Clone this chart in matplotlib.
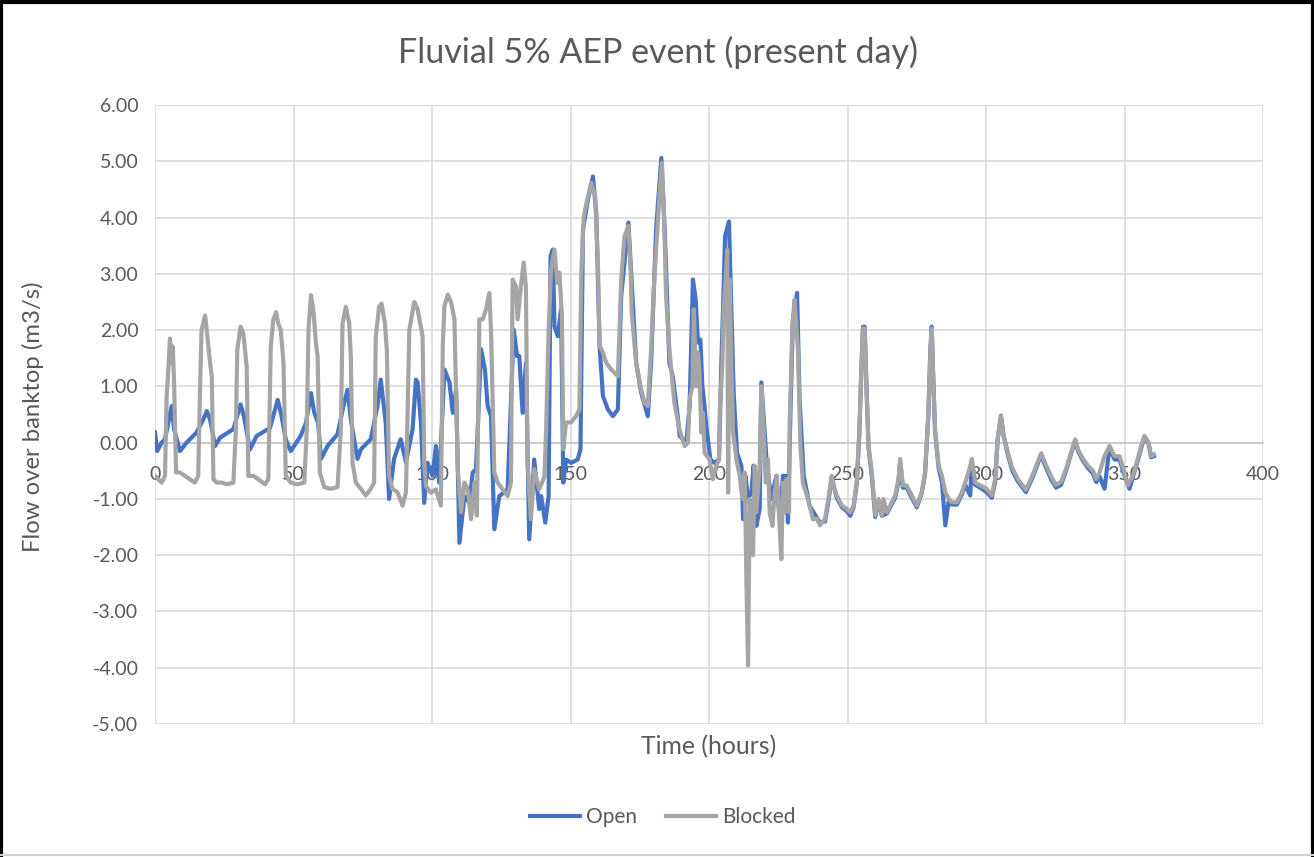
import matplotlib
matplotlib.use("Agg")
import matplotlib.pyplot as plt
from matplotlib.lines import Line2D
from matplotlib.ticker import FormatStrFormatter, MultipleLocator

plt.rcParams['font.family'] = ['Lato', 'DejaVu Sans']

# flow over banktop, open culvert (hours, m3/s)
t_open = [0, 0.8, 2.4, 3.6, 4.8, 6.0, 6.9, 9.0, 11.4, 15.0, 17.4, 18.7, 19.9, 21.7, 23.5, 28.3,
          30.9, 32.1, 34.3, 36.7, 41.5, 44.3, 45.7, 47.2, 49.0, 52.6, 54.5, 56.3, 57.5, 58.9, 59.9,
          62.3, 65.9, 68.3, 69.5, 70.7, 73.1, 74.3, 77.9, 80.3, 81.5, 83.3, 84.5, 86.3, 88.7, 90.6,
          93.0, 94.2, 94.8, 96.0, 97.2, 98.4, 100.2, 101.4, 102.6, 104.5, 106.3, 107.5, 108.7, 109.9,
          111.7, 113.5, 114.7, 115.9, 117.7, 119.1, 120.1, 121.3, 122.5, 124.3, 127.3, 129.5, 130.7,
          131.5, 132.7, 133.9, 135.1, 136.9, 138.7, 139.4, 140.9, 142.1, 142.8, 143.6, 144.2, 145.4,
          146.6, 147.4, 148.4, 150.2, 152.6, 153.6, 154.5, 156.3, 158.1, 159.3, 160.5, 161.7, 163.5,
          165.3, 167.1, 168.3, 170.9, 173.7, 175.5, 177.9, 179.1, 180.9, 182.8, 184.0, 185.7, 186.9,
          188.7, 189.4, 191.8, 193.0, 194.2, 195.2, 196.0, 196.9, 197.6, 198.4, 199.0, 200.5, 202.0,
          203.6, 204.5, 205.1, 205.8, 207.2, 208.1, 208.9, 210.1, 211.7, 212.3, 213.2, 214.1, 215.3,
          216.1, 217.1, 218.3, 218.9, 219.7, 220.9, 222.5, 224.3, 225.5, 226.7, 227.9, 228.5, 229.4,
          230.3, 231.8, 232.7, 234.2, 236.3, 240.0, 241.9, 243.1, 244.3, 246.1, 248.0, 249.8, 251.0,
          252.2, 253.4, 254.3, 255.0, 255.6, 256.2, 256.8, 257.6, 258.8, 260.0, 261.2, 262.4, 264.2,
          265.4, 267.2, 268.4, 269.0, 270.0, 271.4, 273.2, 275.0, 276.8, 278.0, 279.2, 279.9, 280.4,
          280.9, 281.6, 282.9, 284.1, 285.3, 286.5, 287.7, 289.5, 291.3, 292.5, 294.3, 294.9, 296.1,
          297.9, 300.2, 302.1, 303.3, 304.2, 305.4, 306.3, 307.8, 309.5, 311.4, 314.4, 316.8, 319.9,
          321.7, 323.5, 325.3, 327.1, 328.9, 330.7, 332.2, 333.2, 335.0, 336.8, 338.6, 339.8, 341.0,
          342.8, 344.6, 346.4, 348.2, 350.0, 351.8, 353.0, 354.8, 356.0, 357.2, 358.7, 359.6, 360.6]
open_flow = [0.18, -0.15, 0.0, 0.06, 0.35, 0.65, 0.24, -0.15, 0.0, 0.18, 0.41, 0.56, 0.41, -0.06, 0.09, 0.24,
             0.68, 0.47, -0.12, 0.12, 0.26, 0.76, 0.47, 0.06, -0.15, 0.12, 0.35, 0.88, 0.53, 0.35, -0.29,
             -0.06, 0.15, 0.71, 0.94, 0.41, -0.29, -0.12, 0.06, 0.65, 1.12, 0.35, -1.0, -0.29, 0.06, -0.35,
             0.24, 1.12, 1.07, 0.36, -1.07, -0.36, -0.59, -0.06, -0.71, 1.3, 1.07, 0.53, 0.95, -1.78,
             -0.95, -1.07, -0.53, -0.47, 1.66, 1.3, 0.65, 0.47, -1.54, -0.95, -0.83, 2.01, 1.54,
             1.54, 0.53, 1.42, -1.72, -0.3, -1.18, -0.95, -1.42, -0.95, 3.31, 3.43, 2.07, 1.89,
             2.37, -0.71, -0.3, -0.36, -0.3, -0.12, 3.79, 4.32, 4.73, 4.08, 1.72, 0.83, 0.59,
             0.47, 0.59, 2.6, 3.91, 1.42, 0.89, 0.47, 1.42, 3.79, 5.06, 3.79, 1.42, 1.18,
             0.47, 0.12, 0.0, 0.65, 2.9, 2.54, 1.78, 1.83, 1.0, 0.65, 0.3, -0.3, -0.36,
             -0.3, 1.48, 2.43, 3.67, 3.93, 2.31, 0.89, -0.18, -0.41, -1.36, -0.59, -1.0, -0.89,
             -0.41, -1.48, -1.18, 1.07, 0.47, -0.41, -1.0, -0.59, -1.36, -0.59, -0.59, -1.42, 0.53,
             2.19, 2.66, 0.77, -0.59, -1.12, -1.42, -1.4, -1.05, -0.62, -0.98, -1.15, -1.22, -1.3,
             -1.15, -0.7, 0.2, 1.3, 2.06, 2.06, 1.1, -0.1, -0.6, -1.32, -1.05, -1.3, -1.26,
             -1.15, -0.98, -0.7, -0.35, -0.8, -0.8, -0.98, -1.15, -0.9, -0.55, 0.5, 1.65, 2.06,
             1.25, 0.2, -0.45, -0.7, -1.47, -1.05, -1.1, -1.1, -0.92, -0.75, -0.94, -0.35, -0.75,
             -0.8, -0.88, -0.98, -0.7, 0.05, 0.48, 0.15, -0.2, -0.5, -0.68, -0.88, -0.62, -0.22,
             -0.45, -0.65, -0.8, -0.75, -0.5, -0.2, 0.04, -0.15, -0.32, -0.45, -0.55, -0.7, -0.6,
             -0.82, -0.08, -0.3, -0.3, -0.58, -0.82, -0.62, -0.32, -0.1, 0.1, -0.02, -0.26, -0.24]

# flow over banktop, blocked culvert (hours, m3/s)
t_blocked = [0, 1.2, 2.4, 3.6, 4.2, 4.8, 5.4, 6.0, 6.4, 6.9, 7.6, 9.0, 10.8, 12.6, 14.4, 15.6, 16.2,
             16.8, 18.1, 18.9, 19.9, 20.5, 21.1, 22.3, 24.1, 25.9, 28.3, 29.2, 29.7, 30.9, 31.9, 33.1,
             33.7, 35.5, 37.3, 39.7, 40.9, 41.8, 42.7, 43.7, 44.5, 45.4, 46.4, 47.2, 49.0, 51.4, 53.9,
             54.8, 55.4, 56.3, 57.2, 58.1, 58.7, 59.5, 61.1, 63.5, 65.9, 67.1, 67.7, 68.9, 70.1, 70.7,
             71.3, 72.5, 74.3, 76.1, 77.9, 79.1, 79.7, 80.9, 81.8, 83.0, 83.7, 84.5, 85.7, 87.5, 89.4,
             90.6, 91.8, 93.6, 94.8, 96.6, 97.2, 97.8, 99.6, 101.4, 103.2, 103.9, 104.5, 105.7, 106.9,
             108.1, 109.3, 110.5, 111.7, 112.9, 114.1, 115.3, 116.2, 117.1, 118.3, 119.5, 120.7, 121.3,
             122.5, 123.7, 125.5, 127.3, 128.5, 129.1, 130.3, 130.9, 132.1, 133.1, 133.9, 134.5, 135.7,
             136.9, 138.7, 140.6, 141.2, 142.1, 143.0, 144.2, 145.2, 146.0, 146.9, 147.4, 148.4, 150.2,
             152.0, 153.2, 153.9, 154.8, 156.3, 157.5, 158.9, 159.9, 160.5, 161.7, 162.9, 164.7, 167.1,
             167.7, 168.3, 169.5, 170.9, 171.7, 172.1, 173.7, 175.5, 176.7, 177.9, 179.1, 180.3, 181.5,
             182.5, 183.0, 183.7, 184.5, 185.7, 187.5, 189.3, 191.2, 192.4, 193.0, 194.0, 194.5, 195.4,
             196.0, 196.6, 197.2, 197.8, 198.4, 200.2, 201.4, 202.6, 203.6, 203.9, 204.8, 205.3, 206.0,
             206.6, 206.9, 207.5, 208.1, 208.7, 209.9, 211.1, 212.0, 212.9, 213.5, 214.1, 214.7, 215.3,
             215.9, 216.5, 217.1, 218.3, 218.9, 219.5, 220.5, 221.3, 221.9, 222.9, 223.7, 224.5, 225.5,
             226.1, 226.7, 227.3, 227.9, 228.9, 229.1, 230.1, 230.9, 232.1, 233.0, 233.9, 235.7, 237.5,
             238.9, 240.1, 241.9, 243.1, 244.3, 244.9, 246.1, 248.0, 249.8, 251.0, 252.2, 253.4, 254.3,
             255.0, 255.6, 256.2, 256.8, 257.6, 258.8, 260.0, 261.2, 262.4, 263.0, 264.2, 265.4, 267.2,
             268.4, 269.0, 270.0, 271.4, 273.2, 275.0, 276.8, 278.0, 279.2, 279.9, 280.4, 280.9, 281.6,
             282.9, 284.1, 285.3, 286.5, 287.7, 289.5, 291.3, 292.5, 294.0, 294.9, 296.1, 297.9, 300.2,
             302.1, 303.3, 304.2, 305.4, 306.3, 307.8, 309.5, 311.4, 314.4, 316.8, 319.9, 321.7, 323.5,
             325.3, 327.1, 328.9, 330.7, 332.2, 333.2, 335.0, 336.8, 338.6, 339.8, 341.0, 342.8, 344.6,
             346.4, 348.2, 350.0, 351.2, 353.0, 354.8, 356.0, 357.2, 358.7, 359.6, 360.6]
blocked_flow = [-0.59, -0.65, -0.71, -0.59, 0.82, 1.29, 1.85, 1.41, 1.71, 1.06, -0.53, -0.53, -0.59, -0.65, -0.71, -0.59, 0.82,
                2.0, 2.26, 1.88, 1.41, 1.18, -0.65, -0.71, -0.71, -0.74, -0.71, 0.24, 1.65, 2.06, 1.94, 1.35,
                -0.59, -0.59, -0.65, -0.74, -0.65, 1.71, 2.18, 2.32, 2.12, 2.0, 1.41, -0.59, -0.71, -0.74, -0.71,
                0.24, 2.0, 2.62, 2.35, 1.76, 1.53, -0.53, -0.79, -0.82, -0.79, 0.24, 2.12, 2.41, 2.12, 1.53,
                -0.35, -0.71, -0.82, -0.94, -0.82, -0.71, 1.88, 2.41, 2.47, 2.12, 1.65, -0.59, -0.82, -0.88, -1.12,
                -0.88, 2.0, 2.5, 2.37, 1.89, -0.36, -0.77, -0.89, -0.83, -1.12, 1.72, 2.43, 2.63, 2.49,
                2.19, -0.47, -1.24, -0.71, -0.83, -1.36, -0.71, -1.3, 2.19, 2.19, 2.37, 2.66, 2.01,
                -0.53, -0.71, -0.83, -0.95, -0.71, 2.9, 2.78, 2.19, 2.78, 3.2, 2.78, -0.36, -1.36,
                -0.47, -0.83, -0.6, 0.24, 2.01, 3.08, 3.43, 2.84, 3.02, 2.25, -0.12, 0.36, 0.36,
                0.47, 0.59, 3.02, 4.02, 4.38, 4.62, 4.38, 3.2, 1.72, 1.6, 1.42, 1.3, 1.18,
                2.01, 2.9, 3.67, 3.85, 3.08, 2.31, 1.42, 0.95, 0.71, 0.65, 1.66, 2.96, 3.91,
                4.67, 4.97, 4.14, 2.6, 1.66, 0.71, 0.24, -0.06, 0.0, 0.77, 1.0, 2.37, 1.0,
                1.6, 1.24, 0.18, 0.53, -0.18, -0.3, -0.65, -0.41, -0.3, 0.59, 1.36, 2.37, 2.9,
                3.43, -0.89, 2.9, 1.36, 0.18, -0.3, -0.59, -1.0, -0.53, -2.43, -3.96, -1.0, -1.66,
                -2.0, -0.41, -1.24, -0.41, 1.0, 0.47, -0.71, -0.3, -1.24, -1.48, -0.89, -0.59, -1.48,
                -2.07, -0.71, -1.24, -0.65, -1.24, 0.3, 2.07, 2.54, 1.66, -0.06, -0.71, -1.0, -1.36,
                -1.35, -1.47, -1.35, -1.0, -0.59, -0.76, -0.94, -1.12, -1.18, -1.24, -1.12, -0.65, 0.24,
                1.3, 2.03, 2.03, 1.0, -0.06, -0.53, -1.29, -1.0, -1.29, -1.0, -1.24, -1.12, -0.94,
                -0.65, -0.29, -0.76, -0.76, -0.94, -1.12, -0.88, -0.53, 0.53, 1.6, 2.03, 1.2, 0.24,
                -0.41, -0.59, -0.88, -1.0, -1.06, -1.06, -0.88, -0.71, -0.47, -0.29, -0.71, -0.76, -0.82,
                -0.94, -0.65, 0.06, 0.47, 0.12, -0.16, -0.45, -0.64, -0.84, -0.58, -0.19, -0.4, -0.6,
                -0.75, -0.7, -0.47, -0.18, 0.06, -0.12, -0.29, -0.41, -0.5, -0.65, -0.53, -0.24, -0.06,
                -0.24, -0.24, -0.53, -0.76, -0.59, -0.29, -0.06, 0.12, 0.0, -0.24, -0.21]

text_color = '#595959'
grid_color = '#d9d9d9'
W, H = 1314, 857

fig = plt.figure(figsize=(W / 100, H / 100), dpi=100)
ax = fig.add_axes([155 / W, 1 - 724 / H, 1108 / W, 619 / H])

ax.plot(t_open, open_flow, color='#4472c4', linewidth=3.0, label='Open', zorder=3)
ax.plot(t_blocked, blocked_flow, color='#a5a5a5', linewidth=3.0, label='Blocked', zorder=4)

ax.set_xlim(0, 400)
ax.set_ylim(-5, 6)
ax.xaxis.set_major_locator(MultipleLocator(50))
ax.yaxis.set_major_locator(MultipleLocator(1))
ax.yaxis.set_major_formatter(FormatStrFormatter('%.2f'))
ax.grid(True, color=grid_color, linewidth=1.2, zorder=0)
ax.set_axisbelow(True)

for side in ['top', 'right', 'left']:
    ax.spines[side].set_visible(False)
# horizontal axis crosses at zero, labels hang below it
ax.spines['bottom'].set_position(('data', 0))
ax.spines['bottom'].set_color('#c8c8c8')
ax.spines['bottom'].set_linewidth(1.2)

ax.tick_params(axis='both', length=0, labelsize=14, labelcolor=text_color)
ax.tick_params(axis='x', pad=17)
ax.tick_params(axis='y', pad=12)

fig.text(658 / W, 1 - 52 / H, 'Fluvial 5% AEP event (present day)', fontsize=24.5,
         color=text_color, ha='center', va='center')
fig.text(33 / W, 1 - 417 / H, 'Flow over banktop (m3/s)', fontsize=17.2, color=text_color,
         rotation=90, ha='center', va='center')
fig.text(709 / W, 1 - 747 / H, 'Time (hours)', fontsize=17.8, color=text_color,
         ha='center', va='center')

handles, labels = ax.get_legend_handles_labels()
fig.legend(handles, labels, loc='center', bbox_to_anchor=(663 / W, 1 - 817 / H), ncol=2,
           frameon=False, fontsize=15, labelcolor=text_color, handlelength=2.4,
           handletextpad=0.3, columnspacing=1.4)

# outer chart frame
fig.add_artist(Line2D([0.001, 0.001], [0, 1], color='black', linewidth=3, transform=fig.transFigure))
fig.add_artist(Line2D([0.999, 0.999], [0, 1], color='black', linewidth=3, transform=fig.transFigure))
fig.add_artist(Line2D([0, 1], [0.998, 0.998], color='black', linewidth=3, transform=fig.transFigure))
fig.add_artist(Line2D([0, 1], [0.002, 0.002], color='#d0d0d0', linewidth=1.5, transform=fig.transFigure))

fig.savefig('out.png', dpi=100)
